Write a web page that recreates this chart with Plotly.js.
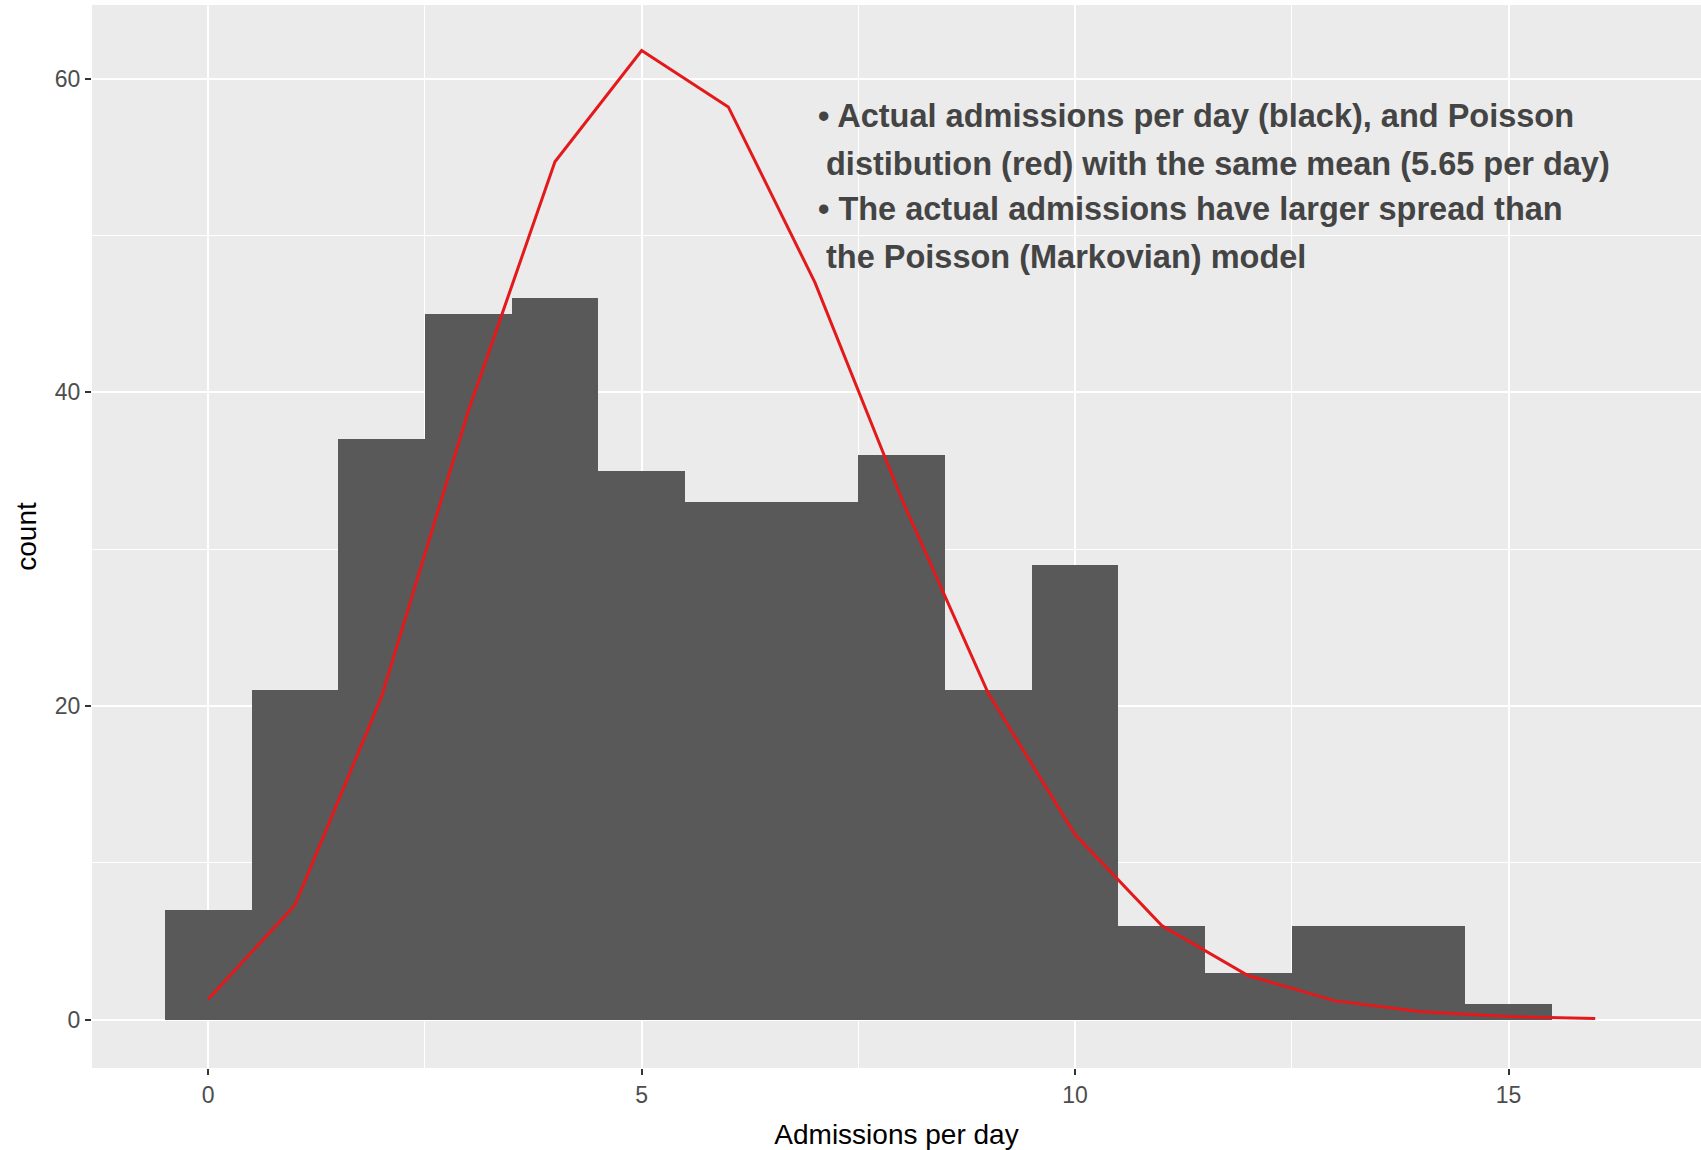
<!DOCTYPE html>
<html>
<head>
<meta charset="utf-8">
<script src="https://cdn.plot.ly/plotly-3.0.1.min.js"></script>
<style>html,body{margin:0;padding:0;background:#fff;}#chart{width:1701px;height:1150px;}</style>
</head>
<body>
<div id="chart"></div>
<script>
// Histogram of actual admissions per day (count of days)
const admissions = [0, 1, 2, 3, 4, 5, 6, 7, 8, 9, 10, 11, 12, 13, 14, 15];
const dayCounts = [7, 21, 37, 45, 46, 35, 33, 33, 36, 21, 29, 6, 3, 6, 6, 1];

// Poisson expected counts
const poissonX = [0, 1, 2, 3, 4, 5, 6, 7, 8, 9, 10, 11, 12, 13, 14, 15, 16];
const poissonCounts = [1.3, 7.3, 20.6, 38.8, 54.7, 61.8, 58.2, 47.0, 33.2, 20.8, 11.8, 6.0, 2.8, 1.2, 0.5, 0.2, 0.07];

const xTicks = [0, 5, 10, 15];
const yTicks = [0, 20, 40, 60];

const noteLines = [
  "• Actual admissions per day (black), and Poisson",
  "distibution (red) with the same mean (5.65 per day)",
  "• The actual admissions have larger spread than",
  "the Poisson (Markovian) model"
];

const traces = [
  {
    type: 'bar',
    x: admissions,
    y: dayCounts,
    width: 1,
    marker: {color: '#595959', line: {width: 0}},
    hoverinfo: 'x+y'
  },
  {
    type: 'scatter',
    mode: 'lines',
    x: poissonX,
    y: poissonCounts,
    line: {color: '#e3191c', width: 3}
  }
];

const noteX = [0.450, 0.455, 0.450, 0.455];
const noteY = [0.8956, 0.8504, 0.8081, 0.7630];
const annotations = noteLines.map((t, i) => ({
  text: t,
  xref: 'paper', yref: 'paper',
  x: noteX[i], y: noteY[i],
  xanchor: 'left', yanchor: 'middle',
  showarrow: false,
  font: {family: 'Liberation Sans, Arial, sans-serif', size: 32.5, color: '#444444', weight: 'bold'}
}));

const layout = {
  width: 1701, height: 1150,
  margin: {l: 92, r: 0, t: 5, b: 82},
  paper_bgcolor: '#ffffff',
  plot_bgcolor: '#ebebeb',
  showlegend: false,
  bargap: 0,
  font: {family: 'Liberation Sans, Arial, sans-serif'},
  xaxis: {
    range: [-1.34, 17.22],
    tickvals: xTicks,
    ticktext: xTicks.map(String),
    showgrid: true, gridcolor: '#ffffff', gridwidth: 2,
    minor: {dtick: 2.5, tick0: 0, showgrid: true, gridcolor: '#ffffff', gridwidth: 1},
    zeroline: false,
    ticks: 'outside', ticklen: 6, tickwidth: 2, tickcolor: '#333333',
    tickfont: {size: 23, color: '#4d4d4d'},
    title: {text: 'Admissions per day', font: {size: 28, color: '#000000'}, standoff: 17},
    showline: false
  },
  yaxis: {
    range: [-3.08, 64.7],
    tickvals: yTicks,
    ticktext: yTicks.map(String),
    showgrid: true, gridcolor: '#ffffff', gridwidth: 2,
    minor: {dtick: 10, tick0: 0, showgrid: true, gridcolor: '#ffffff', gridwidth: 1},
    zeroline: false,
    ticks: 'outside', ticklen: 6, tickwidth: 2, tickcolor: '#333333',
    tickfont: {size: 23, color: '#4d4d4d'},
    title: {text: 'count', font: {size: 28, color: '#000000'}, standoff: 10},
    showline: false
  },
  annotations: annotations
};

Plotly.newPlot('chart', traces, layout, {displayModeBar: false, staticPlot: true});
</script>
</body>
</html>
